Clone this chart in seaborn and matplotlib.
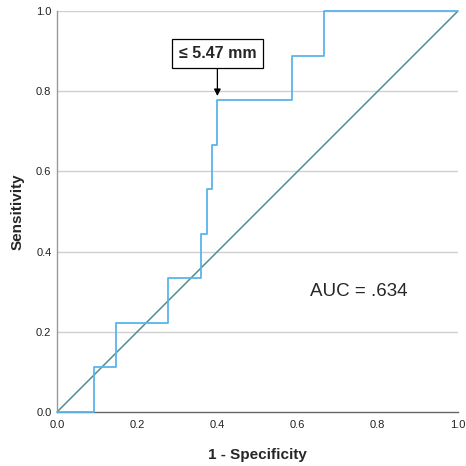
import matplotlib
matplotlib.use("Agg")
import matplotlib.pyplot as plt
import seaborn as sns
import pandas as pd

# === DATA ===
fpr = [0.0, 0.092, 0.148, 0.278, 0.360, 0.373, 0.386, 0.400, 0.587, 0.667, 1.0]
tpr = [0.0, 0.111, 0.222, 0.333, 0.444, 0.556, 0.667, 0.778, 0.889, 1.0, 1.0]
ref_x = [0.0, 1.0]
ref_y = [0.0, 1.0]
cutoff_label = "≤ 5.47 mm"
cutoff_point = (0.400, 0.778)
auc_text = "AUC = .634"
ticks = [0.0, 0.2, 0.4, 0.6, 0.8, 1.0]

sns.set_style("white")
plt.rcParams["font.family"] = ["Liberation Sans", "DejaVu Sans"]

fig = plt.figure(figsize=(4.66, 4.66), dpi=100)
ax = fig.add_axes([0.1223, 0.1159, 0.8605, 0.8605])

for t in ticks[1:]:
    ax.axhline(t, color="#cfcfcf", lw=1.0, zorder=0)

roc = pd.DataFrame({"fpr": fpr, "tpr": tpr})
sns.lineplot(data=roc, x="fpr", y="tpr", sort=False, estimator=None,
             drawstyle="steps-post", color="#5ab4ec", lw=1.3, ax=ax,
             zorder=3, clip_on=False)
sns.lineplot(x=ref_x, y=ref_y, sort=False, estimator=None,
             color="#4e8f91", lw=1.1, ax=ax, zorder=2)

ax.annotate(cutoff_label, xy=(cutoff_point[0], cutoff_point[1] + 0.01),
            xytext=(cutoff_point[0], 0.894), ha="center", va="center",
            fontsize=11.5, fontweight="bold",
            bbox=dict(boxstyle="square,pad=0.42", fc="white", ec="black", lw=0.9),
            arrowprops=dict(arrowstyle="-|>", color="black", lw=0.9,
                            mutation_scale=10, shrinkA=0, shrinkB=0))

ax.text(0.753, 0.30, auc_text, ha="center", va="center", fontsize=13.5)

ax.set_xlim(0, 1)
ax.set_ylim(0, 1)
ax.set_xticks(ticks)
ax.set_yticks(ticks)
ax.set_xticklabels([f"{t:.1f}" for t in ticks])
ax.set_yticklabels([f"{t:.1f}" for t in ticks])
ax.tick_params(length=0, labelsize=8, colors="#222222")
ax.tick_params(axis="y", pad=4)
ax.tick_params(axis="x", pad=6)

ax.set_xlabel("1 - Specificity", fontsize=11, fontweight="bold", labelpad=13)
ax.set_ylabel("Sensitivity", fontsize=11, fontweight="bold", labelpad=8)

for side in ["top", "right"]:
    ax.spines[side].set_visible(False)
ax.spines["left"].set_color("#999999")
ax.spines["bottom"].set_color("#666666")
ax.spines["left"].set_linewidth(1.0)
ax.spines["bottom"].set_linewidth(1.0)
if ax.get_legend():
    ax.get_legend().remove()

fig.savefig("out.png", dpi=100)
